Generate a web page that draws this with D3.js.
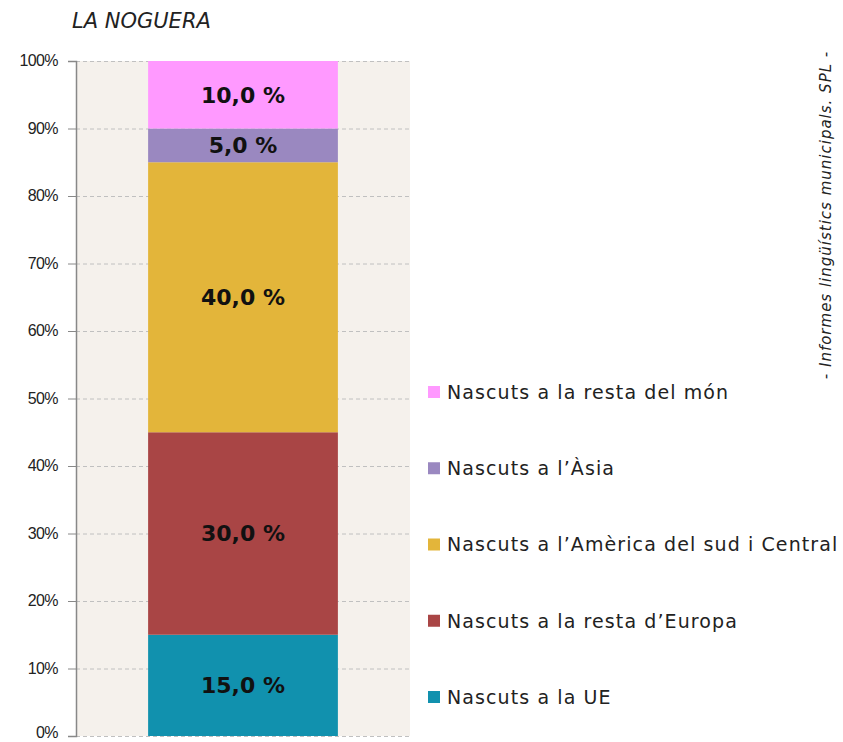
<!DOCTYPE html>
<html>
<head>
<meta charset="utf-8">
<script src="https://cdn.jsdelivr.net/npm/d3@7"></script>
<style>
  body { margin: 0; background: #fff; }
  svg { display: block; font-family: "DejaVu Sans", sans-serif; }
</style>
</head>
<body>
<svg id="chart" width="843" height="742"></svg>
<script>
'use strict'
// data, bottom to top
var series = [
  'Nascuts a la UE',
  'Nascuts a la resta d\u2019Europa',
  'Nascuts a l\u2019Am\u00e8rica del sud i Central',
  'Nascuts a l\u2019\u00c0sia',
  'Nascuts a la resta del m\u00f3n'
]
var values = [15, 30, 40, 5, 10]
var colors = ['#1191ae', '#a94545', '#e3b53a', '#9a88c0', '#ff99ff']
var yTicks = [0, 10, 20, 30, 40, 50, 60, 70, 80, 90, 100]
var category = ['LA NOGUERA']

var svg = d3.select('#chart')
var plot = {left: 76, right: 410, top: 61, bottom: 736}

var y = d3.scaleLinear().domain([0, 100]).range([plot.bottom, plot.top])
var x = d3.scaleBand().domain(category).range([plot.left, plot.right]).paddingInner(0).paddingOuter(0.38)

// stack
var row = {}
series.forEach((s, i) => row[s] = values[i])
var stacked = d3.stack().keys(series)([row])

// background
svg.append('rect')
  .attr('x', plot.left).attr('y', plot.top)
  .attr('width', plot.right - plot.left).attr('height', plot.bottom - plot.top)
  .attr('fill', '#f5f1ec')

// gridlines
svg.append('g').selectAll('line').data(yTicks).join('line')
  .attr('x1', plot.left).attr('x2', plot.right)
  .attr('y1', d => y(d) + 0.5).attr('y2', d => y(d) + 0.5)
  .attr('stroke', '#c0c0c0').attr('stroke-dasharray', '4,3')

// bars
var segs = svg.append('g').selectAll('g').data(stacked).join('g')
segs.append('rect')
  .attr('x', x(category[0]))
  .attr('width', x.bandwidth())
  .attr('y', d => y(d[0][1]))
  .attr('height', d => y(d[0][0]) - y(d[0][1]))
  .attr('fill', (d, i) => colors[i])
segs.append('text')
  .attr('x', x(category[0]) + x.bandwidth() / 2)
  .attr('y', d => y((d[0][0] + d[0][1]) / 2))
  .attr('dy', '0.36em')
  .attr('text-anchor', 'middle')
  .attr('font-weight', 'bold')
  .attr('font-size', 22)
  .attr('fill', '#111')
  .text(d => d3.format('.1f')(d[0][1] - d[0][0]).replace('.', ',') + ' %')

// y axis
var yAxis = svg.append('g')
  .attr('transform', `translate(${plot.left},0)`)
  .call(d3.axisLeft(y).tickValues(yTicks).tickSize(8).tickFormat(d => d + '%'))
yAxis.select('.domain').attr('stroke', '#888').attr('stroke-width', 1.5)
yAxis.selectAll('.tick line').attr('stroke', '#888')
yAxis.selectAll('.tick text')
  .attr('x', -18)
  .attr('dy', d => d === 0 ? '0.1em' : '0.3em')
  .attr('font-size', 16)
  .attr('letter-spacing', -0.6)
  .attr('fill', '#222')

// title
svg.append('text')
  .attr('x', 72).attr('y', 28)
  .attr('font-size', 21)
  .attr('font-style', 'italic')
  .attr('fill', '#222')
  .text(category[0])

// legend, top to bottom
var legendY = d3.scalePoint().domain(series.slice().reverse()).range([392, 697])
var leg = svg.append('g').selectAll('g').data(series).join('g')
  .attr('transform', d => `translate(428,${legendY(d)})`)
leg.append('rect')
  .attr('x', 0).attr('y', -6).attr('width', 12).attr('height', 12)
  .attr('fill', (d, i) => colors[i])
leg.append('text')
  .attr('x', 19).attr('dy', '0.36em')
  .attr('font-size', 19)
  .attr('letter-spacing', 1.1)
  .attr('fill', '#222')
  .text(d => d)

// source
svg.append('text')
  .attr('transform', 'translate(831,215) rotate(-90)')
  .attr('text-anchor', 'middle')
  .attr('font-size', 15)
  .attr('letter-spacing', 1)
  .attr('font-style', 'italic')
  .attr('fill', '#222')
  .text('- Informes ling\u00fc\u00edstics municipals. SPL -')
</script>
</body>
</html>
